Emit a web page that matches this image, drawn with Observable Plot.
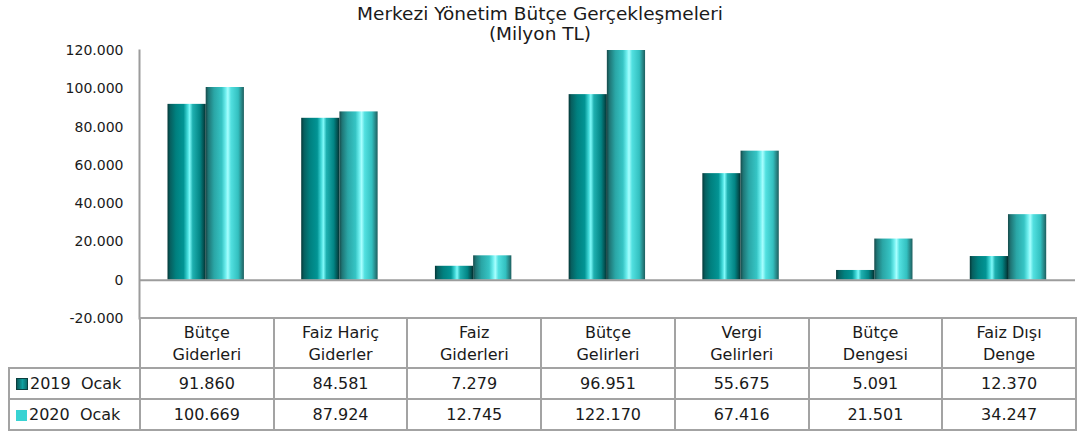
<!DOCTYPE html>
<html>
<head>
<meta charset="utf-8">
<script src="https://cdn.jsdelivr.net/npm/d3@7"></script>
<script src="https://cdn.jsdelivr.net/npm/@observablehq/plot@0.6"></script>
<style>
  html, body { margin: 0; padding: 0; background: #fff; }
  #wrap { position: relative; width: 1080px; height: 437px; font-family: "DejaVu Sans", sans-serif; color: #1a1a1a; overflow: hidden; }
  #title { position: absolute; top: 4px; left: 0; width: 1080px; text-align: center; font-size: 18.5px; line-height: 20px; }
  #chart { position: absolute; top: 0; left: 0; }
  #tbl { position: absolute; top: 317px; left: 8px; border-collapse: collapse; table-layout: fixed; font-size: 16px; }
  #tbl td { border: 2px solid #a3a3a3; text-align: center; padding: 0; overflow: hidden; white-space: nowrap; }
  #tbl td.blank { border-top: none; border-left: none; }
  #tbl td.lab { text-align: left; white-space: pre; padding-left: 6px; }
  #tbl tr.head td { line-height: 22px; padding-top: 2px; }
  .key { display: inline-block; width: 11px; height: 11px; margin-right: 2px; vertical-align: -1px; }
</style>
</head>
<body>
<div id="wrap">
  <div id="chart"></div>
  <div id="title"></div>
  <table id="tbl"></table>
</div>
<script>
const titleLines = ["Merkezi Yönetim Bütçe Gerçekleşmeleri", "(Milyon TL)"];
const categories = ["Bütçe Giderleri", "Faiz Hariç Giderler", "Faiz Giderleri", "Bütçe Gelirleri", "Vergi Gelirleri", "Bütçe Dengesi", "Faiz Dışı Denge"];
const categoryLines = [["Bütçe", "Giderleri"], ["Faiz Hariç", "Giderler"], ["Faiz", "Giderleri"], ["Bütçe", "Gelirleri"], ["Vergi", "Gelirleri"], ["Bütçe", "Dengesi"], ["Faiz Dışı", "Denge"]];
const series = ["2019  Ocak", "2020  Ocak"];
const values2019 = [91860, 84581, 7279, 96951, 55675, 5091, 12370];
const values2020 = [100669, 87924, 12745, 122170, 67416, 21501, 34247];
const yTicks = [-20000, 0, 20000, 40000, 60000, 80000, 100000, 120000];

const seriesValues = [values2019, values2020];
const data = [];
series.forEach((s, si) => categories.forEach((c, ci) => data.push({series: s, category: c, value: seriesValues[si][ci]})));

const fmt = d3.formatLocale({decimal: ",", thousands: ".", grouping: [3], currency: ["", ""], minus: "-"}).format(",d");

document.getElementById("title").innerHTML = titleLines.join("<br>");

const gradIds = ["g2019", "g2020"];
const chart = Plot.plot({
  width: 1080,
  height: 332,
  marginLeft: 139,
  marginRight: 5,
  marginTop: 50,
  marginBottom: 14,
  style: {fontFamily: "DejaVu Sans, sans-serif", fontSize: "14px", color: "#1a1a1a", background: "transparent"},
  x: {domain: categories, padding: 0, round: false, axis: null},
  y: {domain: [-20000, 120000], ticks: yTicks, tickFormat: fmt, tickSize: 0, tickPadding: 16, label: null},
  color: {domain: series, range: gradIds.map(id => `url(#${id})`)},
  marks: [
    Plot.barY(data.filter(d => d.series === series[0]), {x: "category", y: "value", fill: "series", insetLeft: 28.5, insetRight: 67, clip: true}),
    Plot.barY(data.filter(d => d.series === series[1]), {x: "category", y: "value", fill: "series", insetLeft: 66.7, insetRight: 28.8, clip: true}),
    Plot.ruleY([0], {stroke: "#9c9c9c", strokeWidth: 2}),
    Plot.frame({anchor: "left", stroke: "#9c9c9c", strokeWidth: 2})
  ]
});
document.getElementById("chart").appendChild(chart);

// cylinder-like gradients
const svg = d3.select(chart);
const defs = svg.insert("defs", ":first-child");
const stops = [
  [[0, "#053838"], [0.07, "#075f5f"], [0.22, "#00807f"], [0.42, "#029494"], [0.52, "#3fd6d6"], [0.58, "#7ffafa"], [0.66, "#1fb0b0"], [0.85, "#028585"], [0.95, "#034e4e"], [1, "#022e2e"]],
  [[0, "#174a4a"], [0.07, "#1f7676"], [0.22, "#2aa6a6"], [0.42, "#36c4c4"], [0.52, "#6eeeee"], [0.58, "#a8ffff"], [0.66, "#52e0e0"], [0.85, "#33c0c0"], [0.95, "#267f7f"], [1, "#1c5e5e"]]
];
gradIds.forEach((id, i) => {
  const g = defs.append("linearGradient").attr("id", id).attr("x1", 0).attr("x2", 1).attr("y1", 0).attr("y2", 0);
  stops[i].forEach(([o, c]) => g.append("stop").attr("offset", o).attr("stop-color", c));
});

// data table aligned to the x scale
const xs = chart.scale("x");
const step = xs.step !== undefined ? xs.step : xs.bandwidth;
const firstW = xs.range[0] - 8;
const tbl = d3.select("#tbl");
const cg = tbl.append("colgroup");
cg.append("col").style("width", firstW + "px");
categories.forEach(() => cg.append("col").style("width", step + "px"));
const head = tbl.append("tr").attr("class", "head").style("height", "50px");
head.append("td").attr("class", "blank");
categoryLines.forEach(l => head.append("td").html(l.join("<br>")));
const keyStyles = [
  "background: linear-gradient(90deg, #0a5a5a, #10a0a0 55%, #0b6c6c); border: 1px solid #0b3f3f; width: 10px; height: 10px;",
  "background: #38d3d3;"
];
series.forEach((s, si) => {
  const tr = tbl.append("tr").style("height", "31px");
  tr.append("td").attr("class", "lab").html(`<span class="key" style="${keyStyles[si]}"></span>${s}`);
  seriesValues[si].forEach(v => tr.append("td").text(fmt(v)));
});
</script>
</body>
</html>
